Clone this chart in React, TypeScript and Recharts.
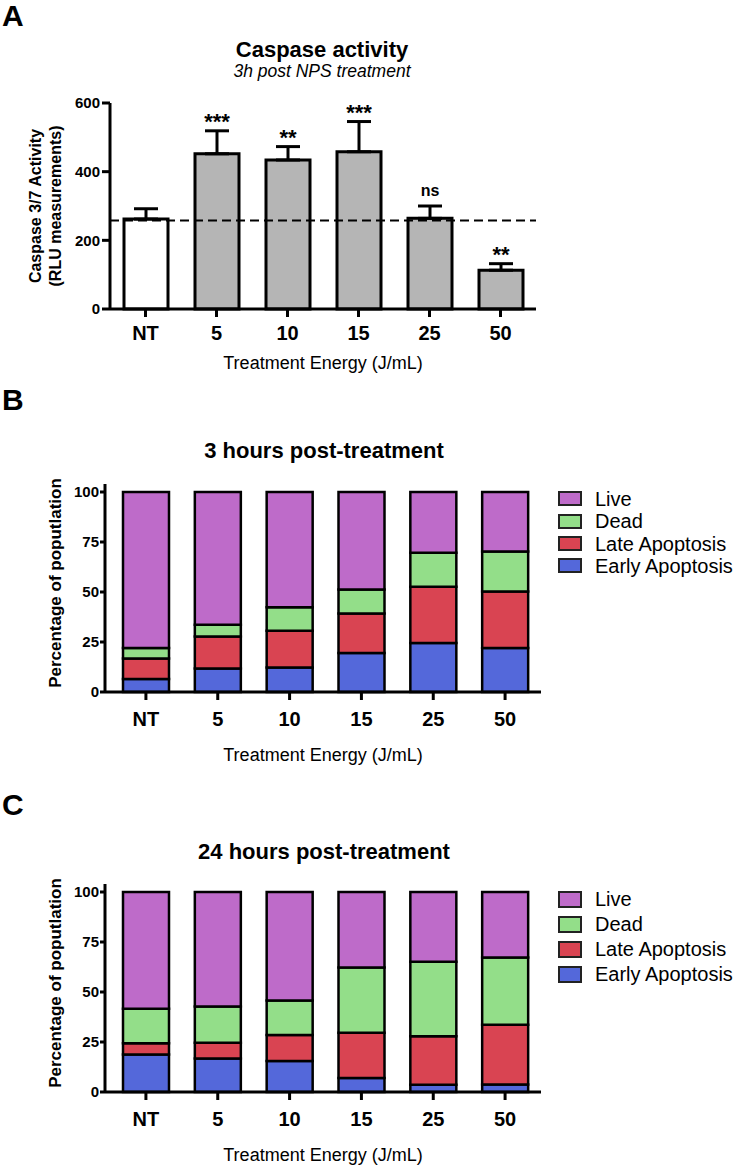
import { BarChart, Bar, XAxis, YAxis, ErrorBar, ReferenceLine, Cell, LabelList, Legend, Label } from "recharts";

const FONT = "'Liberation Sans', Arial, Helvetica, sans-serif";

// Panel A - caspase 3/7 activity, 3h
const categories = ["NT", "5", "10", "15", "25", "50"];
const caspaseMean = [262, 452, 434, 458, 264, 113];
const caspaseSem = [30, 67, 39, 88, 36, 19];
const significance = ["", "***", "**", "***", "ns", "**"];
const baselineRLU = 258;

// Panel B - 3 hours (segment sizes, %)
const early3h = [6.5, 11.8, 12.3, 19.5, 24.5, 22.0];
const late3h = [10.3, 16.0, 18.3, 19.7, 28.1, 28.2];
const dead3h = [5.2, 5.8, 11.8, 12.0, 17.0, 20.0];
const live3h = [78.0, 66.4, 57.6, 48.8, 30.4, 29.8];

// Panel C - 24 hours
const early24h = [18.8, 16.8, 15.5, 7.0, 3.6, 3.8];
const late24h = [5.6, 7.8, 13.0, 22.6, 24.3, 29.8];
const dead24h = [17.2, 18.2, 17.3, 32.6, 37.2, 33.7];
const live24h = [58.4, 57.2, 54.2, 37.8, 34.9, 32.7];

const pctTicks = [0, 25, 50, 75, 100];
const legendOrder = ["Live", "Dead", "Late Apoptosis", "Early Apoptosis"];

const COLORS = {
  live: "#BE6BC9",
  dead: "#93DE89",
  late: "#D94452",
  early: "#5468DA",
  grey: "#B5B5B5",
};

const caspaseData = categories.map((cat, i) => ({
  cat,
  mean: caspaseMean[i],
  sem: caspaseSem[i],
  err: [0, caspaseSem[i]],
  sig: significance[i],
}));

const data3h = categories.map((cat, i) => ({
  cat, early: early3h[i], late: late3h[i], dead: dead3h[i], live: live3h[i],
}));
const data24h = categories.map((cat, i) => ({
  cat, early: early24h[i], late: late24h[i], dead: dead24h[i], live: live24h[i],
}));

const SigLabel = (props: any) => {
  const vb = props.viewBox || props;
  const x = vb.x ?? props.x;
  const y = vb.y ?? props.y;
  const width = vb.width ?? props.width;
  const height = vb.height ?? props.height;
  const d = caspaseData[props.index];
  if (!d || !d.sig) return null;
  const k = height / d.mean;
  const top = y - d.sem * k;
  const isNs = d.sig === "ns";
  return (
    <text x={x + width / 2} y={top - (isNs ? 10 : 2)} textAnchor="middle"
      fontSize={isNs ? 16 : 22} fontWeight="bold" fill="#000">
      {d.sig}
    </text>
  );
};

const LegendBox = ({ payload, rowH, boxH }: any) => {
  const items = [...(payload || [])].sort(
    (a: any, b: any) => legendOrder.indexOf(a.value) - legendOrder.indexOf(b.value)
  );
  return (
    <div>
      {items.map((p: any) => (
        <div key={p.value} style={{ display: "flex", alignItems: "center", height: rowH }}>
          <span style={{ display: "inline-block", width: 24, height: boxH, background: p.color, border: "2px solid #222", boxSizing: "border-box" }} />
          <span style={{ marginLeft: 13, fontSize: 20, color: "#000", lineHeight: 1 }}>{p.value}</span>
        </div>
      ))}
    </div>
  );
};

function StackedPanel({ data, top, rowH, boxH }: any) {
  return (
    <div style={{ position: "absolute", left: 0, top }}>
      <BarChart width={754} height={392} data={data} margin={{ top: 104, right: 213, left: 0, bottom: 0 }}>
        <XAxis dataKey="cat" height={80} padding={{ left: 5, right: 0 }}
          axisLine={{ stroke: "#000", strokeWidth: 3 }} tickLine={{ stroke: "#000", strokeWidth: 3 }}
          tickSize={8} tickMargin={12} tick={{ fill: "#000", fontSize: 20, fontWeight: "bold" }}>
          <Label value="Treatment Energy (J/mL)" position="insideBottom" offset={11} fill="#000" fontSize={18} />
        </XAxis>
        <YAxis domain={[0, 104]} ticks={pctTicks} width={105} interval={0}
          axisLine={{ stroke: "#000", strokeWidth: 3 }} tickLine={{ stroke: "#000", strokeWidth: 3 }}
          tickSize={5} tickMargin={1} tick={{ fill: "#000", fontSize: 15, fontWeight: "bold" }}>
          <Label content={(p: any) => {
            const vb = p.viewBox;
            const cy = vb.y + vb.height / 2 - 5;
            return (
              <text transform={`translate(55,${cy}) rotate(-90)`} textAnchor="middle" dominantBaseline="central"
                fontSize={17} fontWeight="bold" fill="#000">Percentage of poputlation</text>
            );
          }} />
        </YAxis>
        <Bar dataKey="early" name="Early Apoptosis" stackId="s" fill={COLORS.early} stroke="#000" strokeWidth={2.5} barSize={46} isAnimationActive={false} />
        <Bar dataKey="late" name="Late Apoptosis" stackId="s" fill={COLORS.late} stroke="#000" strokeWidth={2.5} barSize={46} isAnimationActive={false} />
        <Bar dataKey="dead" name="Dead" stackId="s" fill={COLORS.dead} stroke="#000" strokeWidth={2.5} barSize={46} isAnimationActive={false} />
        <Bar dataKey="live" name="Live" stackId="s" fill={COLORS.live} stroke="#000" strokeWidth={2.5} barSize={46} isAnimationActive={false} />
        <Legend layout="horizontal" verticalAlign="middle" align="center"
          content={<LegendBox rowH={rowH} boxH={boxH} />}
          wrapperStyle={{ position: "absolute", left: 558, top: 119 - rowH / 2, width: 196, bottom: "auto", right: "auto" }} />
      </BarChart>
    </div>
  );
}

export default function App() {
  return (
    <div style={{ position: "absolute", left: 0, top: 0, width: 754, height: 1166, background: "#fff", fontFamily: FONT }}>
      <div style={{ position: "absolute", left: 0, top: 0 }}>
        <BarChart width={560} height={380} data={caspaseData} margin={{ top: 103, right: 24, left: 0, bottom: 0 }}>
          <XAxis dataKey="cat" height={71}
            axisLine={{ stroke: "#000", strokeWidth: 3 }} tickLine={{ stroke: "#000", strokeWidth: 3 }}
            tickSize={8} tickMargin={9} tick={{ fill: "#000", fontSize: 20, fontWeight: "bold" }}>
            <Label value="Treatment Energy (J/mL)" position="insideBottom" offset={11} fill="#000" fontSize={18} />
          </XAxis>
          <YAxis domain={[0, 600]} ticks={[0, 200, 400, 600]} width={110} interval={0}
            axisLine={{ stroke: "#000", strokeWidth: 3 }} tickLine={{ stroke: "#000", strokeWidth: 3 }}
            tickSize={8} tickMargin={2} tick={{ fill: "#000", fontSize: 15, fontWeight: "bold" }}>
            <Label content={(p: any) => {
              const vb = p.viewBox;
              const cy = vb.y + vb.height / 2;
              return (
                <g>
                  <text transform={`translate(35,${cy}) rotate(-90)`} textAnchor="middle" dominantBaseline="central"
                    fontSize={16} fontWeight="bold" fill="#000">Caspase 3/7 Activity</text>
                  <text transform={`translate(55,${cy}) rotate(-90)`} textAnchor="middle" dominantBaseline="central"
                    fontSize={16} fontWeight="bold" fill="#000">(RLU measurements)</text>
                </g>
              );
            }} />
          </YAxis>
          <Bar dataKey="mean" barSize={44} stroke="#000" strokeWidth={3} isAnimationActive={false}>
            {caspaseData.map((d, i) => (
              <Cell key={d.cat} fill={i === 0 ? "#fff" : COLORS.grey} />
            ))}
            <ErrorBar dataKey="err" direction="y" width={12} stroke="#000" strokeWidth={3} isAnimationActive={false} />
            <LabelList dataKey="mean" content={SigLabel} />
          </Bar>
          <ReferenceLine y={baselineRLU} stroke="#000" strokeWidth={2} strokeDasharray="9 5" />
        </BarChart>
      </div>

      <StackedPanel data={data3h} top={380} rowH={22.3} boxH={15} />
      <StackedPanel data={data24h} top={780} rowH={25} boxH={17} />

      <svg width={754} height={1166} style={{ position: "absolute", left: 0, top: 0, pointerEvents: "none" }}>
        <text x={2} y={26} fontSize={30} fontWeight="bold" fill="#000">A</text>
        <text x={322} y={56.5} textAnchor="middle" fontSize={22} fontWeight="bold" fill="#000">Caspase activity</text>
        <text x={322} y={77} textAnchor="middle" fontSize={17.5} fontStyle="italic" fill="#000">3h post NPS treatment</text>
        <text x={2} y={410} fontSize={30} fontWeight="bold" fill="#000">B</text>
        <text x={324} y={458} textAnchor="middle" fontSize={22} fontWeight="bold" fill="#000">3 hours post-treatment</text>
        <text x={2} y={815} fontSize={30} fontWeight="bold" fill="#000">C</text>
        <text x={324} y={859} textAnchor="middle" fontSize={22} fontWeight="bold" fill="#000">24 hours post-treatment</text>
      </svg>
    </div>
  );
}
